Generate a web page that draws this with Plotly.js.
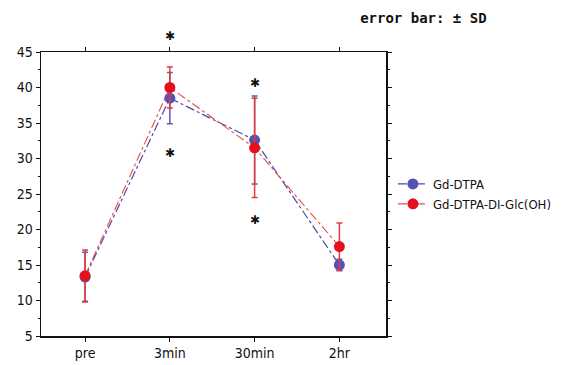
<!DOCTYPE html>
<html><head><meta charset="utf-8">
<script src="https://cdn.plot.ly/plotly-3.0.1.min.js"></script>
<style>html,body{margin:0;padding:0;background:#fff}</style>
</head><body><div id="c" style="width:569px;height:365px"></div>
<script>
const categories = ['pre', '3min', '30min', '2hr'];
const gdMean = [13.3, 38.5, 32.6, 15.0];
const gdSD = [3.5, 3.6, 6.2, 0.8];
const glcMean = [13.5, 40.0, 31.5, 17.6];
const glcSD = [3.6, 2.9, 7.0, 3.3];
const starCats = ['3min', '3min', '30min', '30min'];
const starY = [47.3, 30.8, 40.6, 21.4];
const seriesNames = ['Gd-DTPA', 'Gd-DTPA-DI-Glc(OH)'];
const yRange = [5, 45];

const font = "'DejaVu Sans Condensed', 'Liberation Sans Narrow', sans-serif";
const traces = [
  {x: categories, y: gdMean, name: seriesNames[0], type: 'scatter', mode: 'lines+markers',
   line: {color: '#4a4aa8', width: 1.2, dash: 'dashdot'},
   marker: {color: '#5252b4', size: 11},
   error_y: {type: 'data', array: gdSD, visible: true, color: '#5a5ab8', thickness: 1.5, width: 3}},
  {x: categories, y: glcMean, name: seriesNames[1], type: 'scatter', mode: 'lines+markers',
   line: {color: '#ec4a4a', width: 1.1, dash: 'dashdot'},
   marker: {color: '#e4101c', size: 11},
   error_y: {type: 'data', array: glcSD, visible: true, color: '#e83a3a', thickness: 1.5, width: 3}}
];
// star markers: placed in y-domain units derived from the axis range so the one above the frame is not hidden
const annotations = starCats.map((c, i) => ({
  x: c, xref: 'x', y: (starY[i] - yRange[0]) / (yRange[1] - yRange[0]), yref: 'y domain',
  text: '✱', showarrow: false, xanchor: 'center', yanchor: 'middle',
  font: {family: 'DejaVu Sans', size: 12, color: '#111'}
}));
const layout = {
  width: 569, height: 365,
  margin: {l: 41, r: 183, t: 52, b: 29},
  paper_bgcolor: '#fff', plot_bgcolor: '#fff',
  title: {text: '<b>error bar: ± SD</b>', font: {family: "'DejaVu Sans Mono', monospace", size: 14, color: '#111'},
          x: 0.925, xanchor: 'left', y: 0.95, yanchor: 'middle', xref: 'paper', yref: 'container'},
  xaxis: {type: 'category', range: [-0.52, 3.55], showline: true, linecolor: '#111', linewidth: 1.5,
          mirror: 'ticks', ticks: 'outside', ticklen: 4, tickcolor: '#111', showgrid: false, zeroline: false,
          tickfont: {family: font, size: 14, color: '#111'}},
  yaxis: {range: yRange, dtick: 5, showline: true, linecolor: '#111', linewidth: 1.5,
          mirror: 'ticks', ticks: 'outside', ticklen: 4, tickcolor: '#111', showgrid: false, zeroline: false,
          tickfont: {family: font, size: 14, color: '#111'},
          minor: {dtick: 2.5, ticks: 'outside', ticklen: 2, tickcolor: '#111'}},
  showlegend: true,
  legend: {x: 1.02, xanchor: 'left', y: 0.5, yanchor: 'middle', font: {family: font, size: 13, color: '#111'},
           bgcolor: 'rgba(0,0,0,0)', tracegroupgap: 2},
  annotations: annotations
};
Plotly.newPlot('c', traces, layout, {displayModeBar: false, staticPlot: true});
</script></body></html>
